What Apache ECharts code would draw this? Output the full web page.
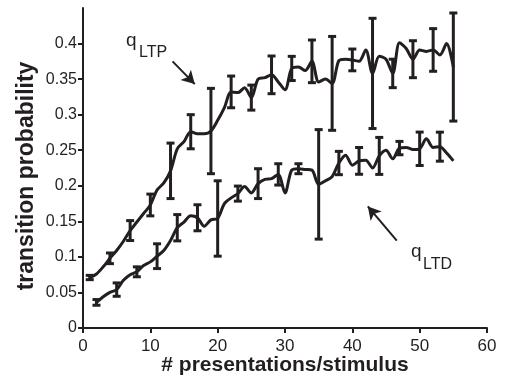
<!DOCTYPE html>
<html>
<head>
<meta charset="utf-8">
<script src="https://cdn.jsdelivr.net/npm/echarts@6/dist/echarts.min.js"></script>
<style>
  html, body {margin: 0; padding: 0; background: #fff;}
  #main {width: 505px; height: 376px;}
</style>
</head>
<body>
<div id="main"></div>
<script>
// q_LTP curve, one value per presentation count, starting at 1
const ltpStart = 1;
const ltpValues = [
  0.071, 0.076, 0.086, 0.098, 0.109, 0.122, 0.137, 0.149, 0.161, 0.173,
  0.194, 0.204, 0.221, 0.252, 0.262, 0.276, 0.273, 0.273, 0.277, 0.292,
  0.310, 0.332, 0.331, 0.338, 0.324, 0.350, 0.352, 0.356, 0.346, 0.335,
  0.365, 0.367, 0.362, 0.375, 0.346, 0.350, 0.344, 0.376, 0.378, 0.377,
  0.375, 0.391, 0.358, 0.382, 0.378, 0.358, 0.401, 0.393, 0.378, 0.391,
  0.389, 0.391, 0.384, 0.400, 0.367
];
// q_LTD curve, starting at 2
const ltdStart = 2;
const ltdValues = [
  0.036, 0.044, 0.050, 0.054, 0.067, 0.075, 0.079, 0.088, 0.093,
  0.101, 0.109, 0.123, 0.141, 0.149, 0.158, 0.155, 0.143, 0.152, 0.154,
  0.175, 0.183, 0.189, 0.199, 0.190, 0.203, 0.209, 0.210, 0.216, 0.190,
  0.222, 0.224, 0.223, 0.222, 0.202, 0.207, 0.213, 0.232, 0.243, 0.229,
  0.235, 0.236, 0.225, 0.242, 0.250, 0.238, 0.253, 0.254, 0.251, 0.252,
  0.266, 0.254, 0.255, 0.246, 0.235
];
// error bars (half widths) every third point
const ltpErrX = [1, 4, 7, 10, 13, 16, 19, 22, 25, 28, 31, 34, 37, 40, 43, 46, 49, 52, 55];
const ltpErr = [0.003, 0.0075, 0.014, 0.0153, 0.039, 0.024, 0.06, 0.0223, 0.0176, 0.0265,
  0.017, 0.03, 0.066, 0.0153, 0.0775, 0.02, 0.026, 0.03, 0.076];
const ltdErrX = [2, 5, 8, 11, 14, 17, 20, 23, 26, 29, 32, 35, 38, 41, 44, 47, 50, 53];
const ltdErr = [0.004, 0.0094, 0.007, 0.0174, 0.0185, 0.0183, 0.053, 0.0106, 0.021, 0.015,
  0.007, 0.077, 0.0164, 0.0188, 0.026, 0.0094, 0.0235, 0.0204];
const yTicks = [0, 0.05, 0.1, 0.15, 0.2, 0.25, 0.3, 0.35, 0.4];

const ink = '#231f20';
const font = '"Liberation Sans", Arial, Helvetica, sans-serif';

const toPoints = (start, vals) => vals.map((v, i) => [start + i, v]);
const toBars = (start, vals, xs, errs) => xs.map((x, i) => {
  const v = vals[x - start];
  return [x, v - errs[i], v + errs[i]];
});

const errRender = (params, api) => {
  const x = api.value(0);
  const lo = api.coord([x, api.value(1)]);
  const hi = api.coord([x, api.value(2)]);
  const cap = 4;
  const style = {stroke: ink, lineWidth: 3};
  return {
    type: 'group',
    children: [
      {type: 'line', shape: {x1: lo[0], y1: lo[1], x2: hi[0], y2: hi[1]}, style},
      {type: 'line', shape: {x1: lo[0] - cap, y1: lo[1], x2: lo[0] + cap, y2: lo[1]}, style},
      {type: 'line', shape: {x1: hi[0] - cap, y1: hi[1], x2: hi[0] + cap, y2: hi[1]}, style}
    ]
  };
};

const arrow = (from, to) => [
  {coord: from, symbol: 'none'},
  {coord: to, symbol: 'arrow', symbolSize: [11, 13]}
];

const chart = echarts.init(document.getElementById('main'));
chart.setOption({
  animation: false,
  grid: {left: 83, right: 18, top: 8, bottom: 48, containLabel: false, outerBoundsMode: 'none'},
  xAxis: {
    type: 'value', min: 0, max: 60, interval: 10,
    name: '# presentations/stimulus',
    nameLocation: 'middle', nameGap: 27, nameMoveOverlap: false,
    nameTextStyle: {fontFamily: font, fontWeight: 'bold', fontSize: 21, color: ink},
    axisLine: {lineStyle: {color: ink, width: 2}},
    axisTick: {length: 5, lineStyle: {color: ink, width: 2}},
    axisLabel: {fontFamily: font, fontSize: 17, color: ink, margin: 10},
    splitLine: {show: false}
  },
  yAxis: {
    type: 'value', min: 0, max: 0.45, interval: 0.05,
    axisLine: {show: true, lineStyle: {color: ink, width: 2}},
    axisTick: {show: true, length: 5, lineStyle: {color: ink, width: 2}, customValues: yTicks},
    axisLabel: {
      fontFamily: font, fontSize: 16, color: ink, margin: 6,
      customValues: yTicks,
      formatter: v => String(+v.toFixed(2))
    },
    splitLine: {show: false}
  },
  series: [
    {
      type: 'line', data: toPoints(ltpStart, ltpValues),
      showSymbol: false, smooth: 0.3,
      lineStyle: {color: ink, width: 3},
      markLine: {
        silent: true, label: {show: false},
        lineStyle: {color: ink, width: 2, type: 'solid'},
        data: [arrow([13.3, 0.375], [16.6, 0.343]), arrow([46.6, 0.123], [42.3, 0.171])]
      }
    },
    {
      type: 'line', data: toPoints(ltdStart, ltdValues),
      showSymbol: false, smooth: 0.3,
      lineStyle: {color: ink, width: 3}
    },
    {type: 'custom', renderItem: errRender, data: toBars(ltpStart, ltpValues, ltpErrX, ltpErr), z: 3},
    {type: 'custom', renderItem: errRender, data: toBars(ltdStart, ltdValues, ltdErrX, ltdErr), z: 3}
  ],
  graphic: [
    {
      type: 'text', x: 27, y: 176, rotation: Math.PI / 2,
      style: {text: 'transition probability', font: 'bold 23px ' + font, fill: ink,
        align: 'center', verticalAlign: 'middle'}
    },
    {type: 'text', left: 126, top: 31, style: {text: 'q', font: '19px ' + font, fill: ink}},
    {type: 'text', left: 139, top: 45, style: {text: 'LTP', font: '16px ' + font, fill: ink}},
    {type: 'text', left: 411, top: 242, style: {text: 'q', font: '19px ' + font, fill: ink}},
    {type: 'text', left: 423, top: 257, style: {text: 'LTD', font: '16px ' + font, fill: ink}}
  ]
});
</script>
</body>
</html>
